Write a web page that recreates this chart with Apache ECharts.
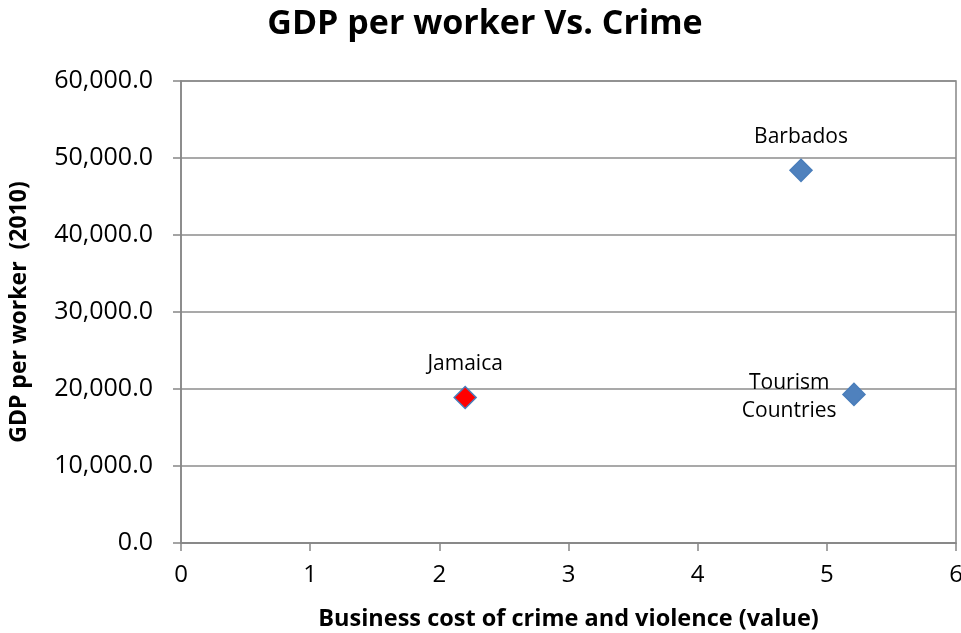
<!DOCTYPE html>
<html>
<head>
<meta charset="utf-8">
<script src="https://cdn.jsdelivr.net/npm/echarts@6/dist/echarts.min.js"></script>
<style>
html,body{margin:0;padding:0;background:#fff;overflow:hidden;}
#chart{width:961px;height:633px;}
</style>
</head>
<body>
<div id="chart"></div>
<script>
const names = ["Jamaica", "Barbados", "Tourism\nCountries"];
const crimeCost = [2.2, 4.8, 5.21];
const gdpPerWorker = [18900, 48400, 19300];
const xTickLabels = ["0", "1", "2", "3", "4", "5", "6"];
const yTickLabels = ["0.0", "10,000.0", "20,000.0", "30,000.0", "40,000.0", "50,000.0", "60,000.0"];

const FONT = "'Open Sans', 'Noto Sans', sans-serif";
const fills = ["#FF0000", "#4F81BD", "#4F81BD"];
const labelCfg = [
  {position: "top", distance: 11},
  {position: "top", distance: 11},
  {position: [-53, 14], align: "center", verticalAlign: "middle", lineHeight: 28}
];

const data = names.map((n, i) => ({
  name: n,
  value: [crimeCost[i], gdpPerWorker[i]],
  itemStyle: {color: fills[i], borderColor: "#4A7EBB", borderWidth: 1.5, opacity: 1},
  label: Object.assign({show: true, formatter: n, color: "#000", fontSize: 21, fontFamily: FONT}, labelCfg[i])
}));

const chart = echarts.init(document.getElementById("chart"));
chart.setOption({
  animation: false,
  title: {
    text: "GDP per worker Vs. Crime",
    left: 480, top: 2, textAlign: "center",
    textStyle: {fontSize: 34, fontWeight: "bold", color: "#000", fontFamily: FONT}
  },
  grid: {left: 181, right: 5, top: 81, bottom: 90, containLabel: false, outerBoundsMode: "none",
         show: true, borderColor: "#868686", borderWidth: 1.5, backgroundColor: "transparent"},
  xAxis: {
    type: "value", min: 0, max: 6, interval: 1,
    name: "Business cost of crime and violence (value)",
    nameLocation: "middle", nameGap: 64,
    nameTextStyle: {fontSize: 23.5, fontWeight: "bold", color: "#000", fontFamily: FONT},
    axisLine: {show: true, lineStyle: {color: "#868686", width: 1.5}},
    axisTick: {show: true, length: 8, lineStyle: {color: "#868686", width: 1.5}},
    axisLabel: {fontSize: 24, color: "#000", fontFamily: FONT, margin: 20, formatter: v => xTickLabels[Math.round(v)]},
    splitLine: {show: false}
  },
  yAxis: {
    type: "value", min: 0, max: 60000, interval: 10000,
    name: "GDP per worker  (2010)",
    nameLocation: "middle", nameGap: 150, nameRotate: 90,
    nameTextStyle: {fontSize: 23, fontWeight: "bold", color: "#000", fontFamily: FONT},
    axisLine: {show: true, lineStyle: {color: "#868686", width: 1.5}},
    axisTick: {show: true, length: 8, lineStyle: {color: "#868686", width: 1.5}},
    axisLabel: {fontSize: 25, color: "#000", fontFamily: FONT, margin: 28, formatter: v => yTickLabels[Math.round(v / 10000)]},
    splitLine: {show: true, lineStyle: {color: "#8c8c8c", width: 1.5}}
  },
  series: [{
    type: "scatter",
    symbol: "diamond",
    symbolSize: 22,
    itemStyle: {opacity: 1},
    data: data
  }]
});
</script>
</body>
</html>
